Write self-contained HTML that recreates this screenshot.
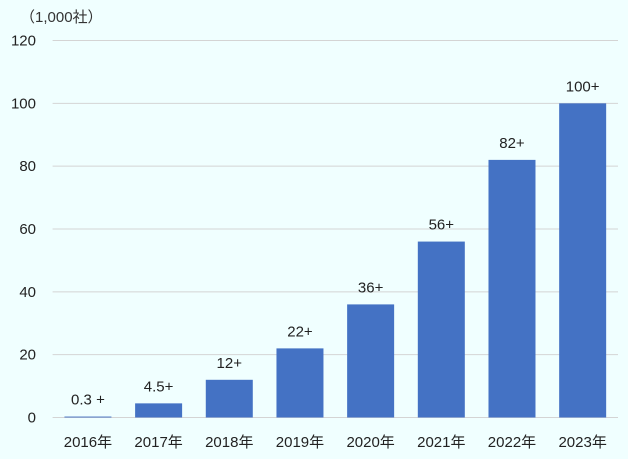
<!DOCTYPE html>
<html><head><meta charset="utf-8"><style>
html,body{margin:0;padding:0;background:#F0FFFF;}
svg{display:block;font-family:"Liberation Sans","Noto Sans CJK JP",sans-serif;}
</style></head><body>
<svg width="628" height="459">
<rect width="628" height="459" fill="#F0FFFF"/>
<text x="20" y="22" font-size="15" fill="#333">（1,000社）</text>
<g id="grid"></g><g id="bars"></g><g id="labels"></g>
</svg>
<script>
const categories=["2016年","2017年","2018年","2019年","2020年","2021年","2022年","2023年"];
const values=[0.3,4.5,12,22,36,56,82,100];
const valueLabels=["0.3 +","4.5+","12+","22+","36+","56+","82+","100+"];
const ticks=[0,20,40,60,80,100,120];
const NS="http://www.w3.org/2000/svg";
const x0=52.6,x1=618,y0=417.5,y1=40.5,maxV=120;
const slot=(x1-x0)/categories.length,bw=47;
const y=v=>y0-(v/maxV)*(y0-y1);
const xc=i=>x0+slot*(i+0.5);
function mk(t,a,p){const e=document.createElementNS(NS,t);for(const k in a)e.setAttribute(k,a[k]);p.appendChild(e);return e;}
const g=document.getElementById('grid'),b=document.getElementById('bars'),l=document.getElementById('labels');
ticks.forEach(t=>{
 const ln=mk('line',{x1:x0,x2:x1,y1:y(t),y2:y(t),stroke:'#d4d4d4','stroke-width':1},g);
 
 
 const tx=mk('text',{x:36,y:y(t)+5,'font-size':15,fill:'#222','text-anchor':'end'},g);
 tx.textContent=t;
 
 
});
categories.forEach((c,i)=>{
 const r=mk('rect',{x:xc(i)-bw/2,y:y(values[i]),width:bw,height:y0-y(values[i]),fill:'#4472C4'},b);
 
 
 const vt=mk('text',{x:xc(i),y:y(values[i])-12,'font-size':15,fill:'#222','text-anchor':'middle'},l);
 vt.textContent=valueLabels[i];
 
 
 const ct=mk('text',{x:xc(i),y:447,'font-size':15,fill:'#222','text-anchor':'middle'},l);
 ct.textContent=c;
 
 
});
</script>
</body></html>
